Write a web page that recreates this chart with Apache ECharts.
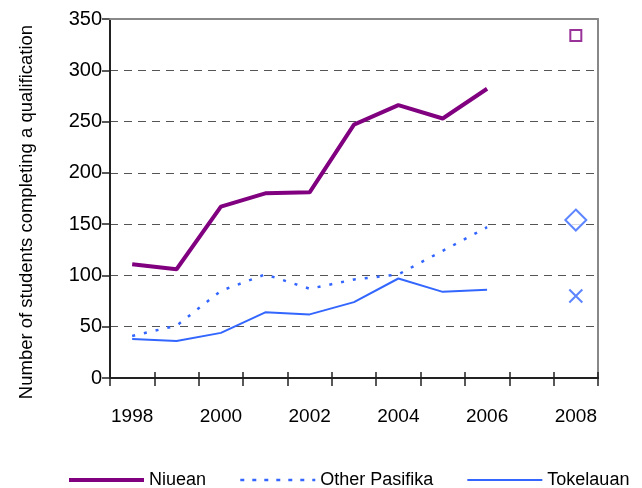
<!DOCTYPE html>
<html>
<head>
<meta charset="utf-8">
<script src="https://cdn.jsdelivr.net/npm/echarts@6/dist/echarts.min.js"></script>
<style>
  html, body { margin: 0; padding: 0; background: #fff; }
  #chart { width: 642px; height: 488px; }
</style>
</head>
<body>
<div id="chart"></div>
<script>
// years on the category axis (2007 left empty, 2008 only has the target markers)
const years = ['1998', '1999', '2000', '2001', '2002', '2003', '2004', '2005', '2006', '2007', '2008'];

const niuean = [111, 106, 167, 180, 181, 247, 266, 253, 282, null, null];
const otherPasifika = [41, 51, 85, 101, 87, 96, 101, 124, 147, null, null];
const tokelauan = [38, 36, 44, 64, 62, 74, 97, 84, 86, null, null];

// 2008 values, shown as lone markers
const target2008 = { Niuean: 334, 'Other Pasifika': 154, Tokelauan: 80 };

const purple = '#800080';
const blue = '#3366ff';
const font = "'Liberation Sans', Arial, sans-serif";

var chart = echarts.init(document.getElementById('chart'));

const option = {
    animation: false,
    grid: { left: 110, right: 44, top: 19, bottom: 110 },
    graphic: [
        {
            type: 'text',
            x: 27,
            y: 212,
            rotation: Math.PI / 2,
            style: {
                text: 'Number of students completing a qualification',
                font: '18.5px ' + font,
                fill: '#000',
                align: 'center',
                verticalAlign: 'middle'
            }
        }
    ],
    legend: {
        data: [
            { name: 'Niuean', lineStyle: { width: 4 } },
            { name: 'Other Pasifika', lineStyle: { width: 2.5, type: [4, 8] } },
            { name: 'Tokelauan', lineStyle: { width: 2 } }
        ],
        left: 62,
        top: 466,
        itemWidth: 75,
        itemHeight: 14,
        itemGap: 33,
        itemStyle: { opacity: 0 },
        textStyle: { fontFamily: font, fontSize: 18, color: '#000' }
    },
    xAxis: [
        {
            type: 'category',
            data: years,
            position: 'bottom',
            boundaryGap: true,
            axisLine: { show: true, lineStyle: { color: '#222', width: 2 } },
            axisTick: { show: true, interval: 0, length: 8, lineStyle: { color: '#222', width: 1.5 } },
            axisLabel: { interval: 1, margin: 29, fontFamily: font, fontSize: 19, color: '#000' },
            splitLine: { show: false }
        },
        {
            // the inner half of the crossing ticks
            type: 'category',
            data: years,
            position: 'bottom',
            axisLine: { show: false },
            axisTick: { show: true, inside: true, interval: 0, length: 6, lineStyle: { color: '#222', width: 1.5 } },
            axisLabel: { show: false }
        },
        {
            // top frame line
            type: 'category',
            data: years,
            position: 'top',
            z: 5,
            axisLine: { show: true, lineStyle: { color: '#888', width: 2 } },
            axisTick: { show: false },
            axisLabel: { show: false }
        }
    ],
    yAxis: [
        {
            type: 'value',
            min: 0,
            max: 350,
            interval: 50,
            axisLine: { show: true, lineStyle: { color: '#222', width: 2 } },
            axisTick: { show: true, length: 8, lineStyle: { color: '#222', width: 1.5 } },
            axisLabel: { margin: 8, fontFamily: font, fontSize: 20, color: '#000' },
            splitLine: { show: true, lineStyle: { color: '#555', width: 1, type: [8, 6] } }
        },
        {
            // right frame line
            type: 'value',
            min: 0,
            max: 350,
            interval: 50,
            position: 'right',
            axisLine: { show: true, lineStyle: { color: '#888', width: 2 } },
            axisTick: { show: false },
            axisLabel: { show: false },
            splitLine: { show: false }
        }
    ],
    series: [
        {
            name: 'Niuean',
            type: 'line',
            data: niuean,
            symbol: 'none',
            connectNulls: false,
            lineStyle: { color: purple, width: 4 },
            itemStyle: { color: purple },
            z: 3
        },
        {
            name: 'Other Pasifika',
            type: 'line',
            data: otherPasifika,
            symbol: 'none',
            lineStyle: { color: blue, width: 2.5, type: [3, 9] },
            itemStyle: { color: blue },
            z: 2
        },
        {
            name: 'Tokelauan',
            type: 'line',
            data: tokelauan,
            symbol: 'none',
            lineStyle: { color: blue, width: 2 },
            itemStyle: { color: blue },
            z: 2
        },
        {
            name: 'Niuean 2008',
            type: 'scatter',
            data: [['2008', target2008['Niuean']]],
            symbol: 'rect',
            symbolSize: 11,
            itemStyle: { color: '#fff', borderColor: purple, borderWidth: 2 },
            z: 4
        },
        {
            name: 'Other Pasifika 2008',
            type: 'scatter',
            data: [['2008', target2008['Other Pasifika']]],
            symbol: 'path://M10,0L20,10L10,20L0,10Z',
            symbolSize: 21,
            itemStyle: { color: '#fff', borderColor: blue, borderWidth: 2 },
            z: 4
        },
        {
            name: 'Tokelauan 2008',
            type: 'scatter',
            data: [['2008', target2008['Tokelauan']]],
            symbol: 'path://M0,0L10,10M10,0L0,10',
            symbolSize: 13,
            itemStyle: { color: 'none', borderColor: blue, borderWidth: 2 },
            z: 4
        }
    ]
};

chart.setOption(option);
</script>
</body>
</html>
